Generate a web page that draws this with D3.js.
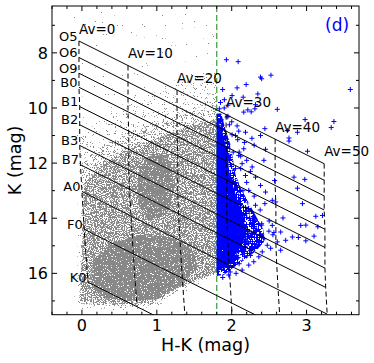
<!DOCTYPE html>
<html>
<head>
<meta charset="utf-8">
<script src="https://cdn.jsdelivr.net/npm/d3@7"></script>
<style>
  body { margin: 0; background: #fff; }
  text { font-family: "DejaVu Sans", sans-serif; }
</style>
</head>
<body>
<div id="chart"></div>
<script>
// spectral types: intrinsic K and H-K at Av = 0
var spTypes = ["O5", "O6", "O9", "B0", "B1", "B2", "B3", "B7", "A0", "F0", "K0"];
var spK0 = [7.57, 8.17, 8.74, 9.25, 9.95, 10.61, 11.36, 12.06, 13.03, 14.40, 16.32];
var spHK0 = [-0.04, -0.04, -0.04, -0.04, -0.03, -0.03, -0.03, -0.02, 0.0, 0.03, 0.08];

// reddening grid
var avValues = [0, 10, 20, 30, 40, 50];
var ehkPerAv = 0.0655;   // E(H-K)/Av
var akPerAv = 0.089;     // A_K/Av
var hkCut = 1.8;

// gray field stars, density outlines [H-K, K]
var grayLevel0 = [[-0.12, 6.5], [1.8, 6.5], [1.8, 16.1], [1.3, 16.9], [0.9, 17.4], [-0.1, 17.4]];
var grayLevel1 = [[-0.02, 11.0], [0.4, 10.1], [1.0, 9.4], [1.5, 8.9], [1.8, 8.7], [1.8, 16.0], [1.3, 16.8],
                  [0.9, 17.3], [0.3, 17.35], [-0.06, 17.3], [-0.06, 13.0], [-0.03, 11.5]];
var grayLevel1b = [[0.0, 12.0], [0.3, 11.3], [0.7, 10.8], [1.1, 10.4], [1.5, 10.0], [1.8, 9.7], [1.8, 15.98],
                   [1.31, 16.6], [0.95, 17.15], [0.6, 17.2], [0.2, 17.15], [-0.04, 17.1], [-0.02, 15.5], [0.0, 13.5]];
var grayLevel2 = [[0.03, 12.7], [0.3, 12.0], [0.6, 11.5], [1.0, 11.1], [1.4, 10.7], [1.8, 10.4], [1.8, 15.95],
                  [1.31, 16.5], [0.95, 17.05], [0.6, 17.12], [0.2, 17.08], [-0.03, 17.0], [0.0, 15.5], [0.02, 13.5]];
var grayCoreA = [[0.75, 12.4], [0.85, 11.8], [1.05, 11.7], [1.2, 12.0], [1.22, 13.0], [1.15, 13.8], [0.9, 14.1],
                 [0.75, 13.5]];
var grayCoreB = [[0.15, 15.5], [0.4, 14.9], [0.8, 14.6], [1.2, 14.7], [1.5, 15.2], [1.55, 15.8], [1.3, 16.45],
                 [0.95, 16.95], [0.6, 17.0], [0.3, 16.9], [0.12, 16.4]];

// blue sources (H-K > 1.8): dense core outlines + individual points
var blueCore = [[1.8, 10.2], [1.86, 10.2], [1.92, 10.8], [1.98, 11.3], [2.02, 11.9], [2.05, 12.4], [2.12, 12.9],
                [2.22, 13.4], [2.32, 13.9], [2.42, 14.4], [2.45, 14.8], [2.32, 15.2], [2.18, 15.5], [2.02, 15.8],
                [1.9, 16.05], [1.8, 16.1]];
var blueInner = [[1.8, 10.5], [1.88, 10.9], [1.94, 11.6], [1.97, 12.4], [2.06, 13.2], [2.15, 13.9], [2.2, 14.6],
                 [2.08, 15.2], [1.95, 15.7], [1.8, 15.95]];
var bluePoints = [
  [1.929, 8.25], [2.086, 8.32], [2.385, 8.88], [2.40, 8.94], [2.524, 8.81], [3.584, 9.33], [1.879, 9.33],
  [2.072, 9.27], [2.193, 9.15], [2.349, 9.49], [2.005, 9.55], [1.902, 9.70], [2.153, 9.61], [2.318, 9.88],
  [2.215, 10.07], [2.26, 10.14], [2.161, 10.15], [2.609, 10.05], [1.835, 10.03], [2.309, 10.03], [2.98, 10.42],
  [3.365, 10.49], [3.329, 10.71], [1.862, 10.43], [1.969, 10.61], [2.072, 10.65], [2.094, 10.84], [2.184, 10.88],
  [2.443, 10.75], [2.005, 10.97], [1.915, 11.06], [2.385, 11.0], [2.765, 11.09], [1.826, 10.57], [1.938, 10.33],
  [2.878, 10.88], [2.744, 10.82],
  [2.765, 11.20], [3.012, 11.57], [2.452, 11.50], [2.43, 11.90], [2.832, 12.51], [2.976, 12.59], [2.573, 12.63],
  [2.878, 12.91], [2.542, 13.35], [2.587, 13.41], [2.945, 13.47], [2.443, 13.47], [3.123, 13.93], [3.213, 13.90],
  [2.685, 13.99], [2.99, 14.25], [2.273, 12.14], [2.318, 12.51], [2.385, 12.81], [2.184, 12.45], [2.228, 12.99],
  [2.452, 13.05], [2.318, 13.53], [2.228, 13.71], [2.161, 11.48], [2.094, 11.72], [2.139, 12.02],
  [2.40, 14.20], [2.542, 14.26], [2.922, 14.26], [2.81, 14.68], [2.721, 14.80], [2.654, 14.50], [2.564, 14.52],
  [2.497, 14.47], [2.654, 15.16], [2.609, 14.86], [2.43, 14.74], [2.52, 15.09], [2.362, 15.40], [2.295, 15.58],
  [2.228, 15.70], [2.139, 15.88], [2.058, 16.00], [1.96, 16.06], [2.408, 15.22], [2.475, 14.98],
  [3.15, 14.31], [2.89, 14.7], [2.99, 14.82], [3.1, 14.65],
  [2.05, 11.0], [2.0, 10.5], [1.95, 10.3], [2.1, 11.6], [2.12, 12.2], [2.2, 12.7], [2.3, 13.2], [2.38, 13.7],
  [2.5, 14.1], [2.55, 14.6], [2.35, 15.0], [2.25, 15.35], [2.1, 15.65], [1.98, 15.95], [1.88, 16.15],
  [2.15, 13.0], [2.28, 14.0], [2.4, 14.25], [2.02, 11.6], [1.9, 10.0], [1.85, 9.8], [1.95, 9.9],
  [2.08, 11.15], [2.17, 11.25], [2.27, 11.1], [2.3, 11.35], [2.12, 11.75], [2.2, 11.9], [2.05, 12.2], [2.25, 12.3]
];

var xTicks = [0, 1, 2, 3];
var yTicks = [8, 10, 12, 14, 16];

var W = 374, H = 363;
var plot = {left: 52, right: 359, top: 6, bottom: 314.7};

var svg = d3.select("#chart").append("svg")
    .attr("width", W)
    .attr("height", H);

var x = d3.scaleLinear().domain([-0.4, 3.7]).range([plot.left, plot.right]);
var y = d3.scaleLinear().domain([6.3, 17.5]).range([plot.top, plot.bottom]);

var defs = svg.append("defs");
defs.append("clipPath").attr("id", "clip")
    .append("rect")
    .attr("x", plot.left).attr("y", plot.top)
    .attr("width", plot.right - plot.left).attr("height", plot.bottom - plot.top);

// speckle filters: threshold a noise field so a filled area looks like scattered dots
// (plus=true grows each dot into a small "+" marker)
function speckle(id, thr, seed, freq, plus) {
    var f = defs.append("filter").attr("id", id)
        .attr("filterUnits", "userSpaceOnUse")
        .attr("x", 0).attr("y", 0).attr("width", W).attr("height", H)
        .attr("color-interpolation-filters", "sRGB");
    f.append("feTurbulence").attr("type", "fractalNoise").attr("baseFrequency", freq)
        .attr("numOctaves", 2).attr("seed", seed).attr("result", "n");
    var s = 30;
    f.append("feColorMatrix").attr("in", "n").attr("type", "matrix")
        .attr("values", "0 0 0 0 0 0 0 0 0 0 0 0 0 0 0 " + s + " 0 0 0 " + (-s * thr))
        .attr("result", "m");
    var mask = "m";
    if (plus) {
        f.append("feMorphology").attr("in", "m").attr("operator", "dilate").attr("radius", "2 0").attr("result", "h");
        f.append("feMorphology").attr("in", "m").attr("operator", "dilate").attr("radius", "0 2").attr("result", "v");
        var mg = f.append("feMerge").attr("result", "p");
        mg.append("feMergeNode").attr("in", "h");
        mg.append("feMergeNode").attr("in", "v");
        mask = "p";
    }
    f.append("feComposite").attr("in", "SourceGraphic").attr("in2", mask).attr("operator", "in");
}
speckle("spk0", 0.78, 3, 0.9, false);
speckle("spk1", 0.67, 7, 0.9, false);
speckle("spk1b", 0.6, 5, 0.9, false);
speckle("spk2", 0.48, 11, 0.9, false);
speckle("spk3", 0.4, 17, 0.9, false);
speckle("spkBlue", 0.62, 23, 1.3, true);
speckle("spkBlue2", 0.5, 29, 1.3, true);

var poly = d3.line().x(function (d) { return x(d[0]); }).y(function (d) { return y(d[1]); });

var g = svg.append("g").attr("clip-path", "url(#clip)");

// gray field
[[grayLevel0, "spk0"], [grayLevel1, "spk1"], [grayLevel1b, "spk1b"], [grayLevel2, "spk2"],
 [grayCoreA, "spk3"], [grayCoreB, "spk3"]]
    .forEach(function (p) {
        g.append("path")
            .attr("d", poly(p[0]) + "Z")
            .attr("fill", "#888")
            .attr("filter", "url(#" + p[1] + ")");
    });

// H-K cut
g.append("line")
    .attr("x1", x(hkCut)).attr("x2", x(hkCut))
    .attr("y1", plot.top).attr("y2", plot.bottom)
    .attr("stroke", "#3a9a3a")
    .attr("stroke-width", 1.2)
    .attr("stroke-dasharray", "6,3");

// blue sources
[[blueCore, "spkBlue"], [blueInner, "spkBlue2"]].forEach(function (p) {
    g.append("path")
        .attr("d", poly(p[0]) + "Z")
        .attr("fill", "#0000ff")
        .attr("filter", "url(#" + p[1] + ")");
});

g.selectAll(".blue").data(bluePoints).enter()
    .append("path")
    .attr("class", "blue")
    .attr("d", function (d) {
        var cx = x(d[0]), cy = y(d[1]), r = 2.5;
        return "M" + (cx - r) + "," + cy + "H" + (cx + r) + "M" + cx + "," + (cy - r) + "V" + (cy + r);
    })
    .attr("stroke", "#0000ff")
    .attr("stroke-width", 1);

// reddening vectors, one per spectral type
function redden(i, av) {
    return [spHK0[i] + ehkPerAv * av, spK0[i] + akPerAv * av];
}
var avMax = avValues[avValues.length - 1];

g.selectAll(".sp").data(spTypes).enter()
    .append("path")
    .attr("class", "sp")
    .attr("d", function (d, i) { return poly([redden(i, 0), redden(i, avMax)]); })
    .attr("fill", "none")
    .attr("stroke", "#000")
    .attr("stroke-width", 1);

// iso-extinction lines
g.selectAll(".av").data(avValues).enter()
    .append("path")
    .attr("class", "av")
    .attr("d", function (av) { return poly(spTypes.map(function (s, i) { return redden(i, av); })); })
    .attr("fill", "none")
    .attr("stroke", "#000")
    .attr("stroke-width", 1)
    .attr("stroke-dasharray", "5,3");

// labels
svg.selectAll(".splab").data(spTypes).enter()
    .append("text")
    .attr("x", function (d, i) { return x(spHK0[i]) - 1.5; })
    .attr("y", function (d, i) { return y(spK0[i]) - 0.5; })
    .attr("text-anchor", "end")
    .attr("font-size", 13)
    .text(function (d) { return d; });

svg.selectAll(".avlab").data(avValues).enter()
    .append("text")
    .attr("x", function (av) { return x(redden(0, av)[0]); })
    .attr("y", function (av) { return y(redden(0, av)[1]) - 7.5; })
    .attr("font-size", 13.5)
    .text(function (av) { return "Av=" + av; });

svg.append("text")
    .attr("x", 325).attr("y", 30.5)
    .attr("font-size", 17)
    .attr("fill", "#0000ff")
    .text("(d)");

// frame + inward ticks on all four sides
svg.append("rect")
    .attr("x", plot.left).attr("y", plot.top)
    .attr("width", plot.right - plot.left).attr("height", plot.bottom - plot.top)
    .attr("fill", "none").attr("stroke", "#000").attr("stroke-width", 1);

var xMinor = d3.range(-0.4, 3.71, 0.2).filter(function (v) { return Math.abs(v - Math.round(v)) > 0.01; });
var yMinor = d3.range(7, 17.1, 2);

function xTickMarks(vals, len) {
    vals.forEach(function (v) {
        var px = x(v);
        svg.append("line").attr("x1", px).attr("x2", px).attr("y1", plot.bottom).attr("y2", plot.bottom - len)
            .attr("stroke", "#000");
        svg.append("line").attr("x1", px).attr("x2", px).attr("y1", plot.top).attr("y2", plot.top + len)
            .attr("stroke", "#000");
    });
}
function yTickMarks(vals, len) {
    vals.forEach(function (v) {
        var py = y(v);
        svg.append("line").attr("x1", plot.left).attr("x2", plot.left + len).attr("y1", py).attr("y2", py)
            .attr("stroke", "#000");
        svg.append("line").attr("x1", plot.right).attr("x2", plot.right - len).attr("y1", py).attr("y2", py)
            .attr("stroke", "#000");
    });
}
xTickMarks(xTicks, 5);
xTickMarks(xMinor, 3);
yTickMarks(yTicks, 5);
yTickMarks(yMinor, 3);

svg.selectAll(".xtl").data(xTicks).enter()
    .append("text")
    .attr("x", function (d) { return x(d); })
    .attr("y", 331)
    .attr("text-anchor", "middle")
    .attr("font-size", 16)
    .text(function (d) { return d; });

svg.selectAll(".ytl").data(yTicks).enter()
    .append("text")
    .attr("x", 48)
    .attr("y", function (d) { return y(d); })
    .attr("dy", "0.36em")
    .attr("text-anchor", "end")
    .attr("font-size", 16)
    .text(function (d) { return d; });

svg.append("text")
    .attr("x", (plot.left + plot.right) / 2).attr("y", 351)
    .attr("text-anchor", "middle")
    .attr("font-size", 17.5)
    .text("H-K (mag)");

svg.append("text")
    .attr("transform", "translate(21," + ((plot.top + plot.bottom) / 2) + ") rotate(-90)")
    .attr("text-anchor", "middle")
    .attr("font-size", 17.5)
    .text("K (mag)");
</script>
</body>
</html>
